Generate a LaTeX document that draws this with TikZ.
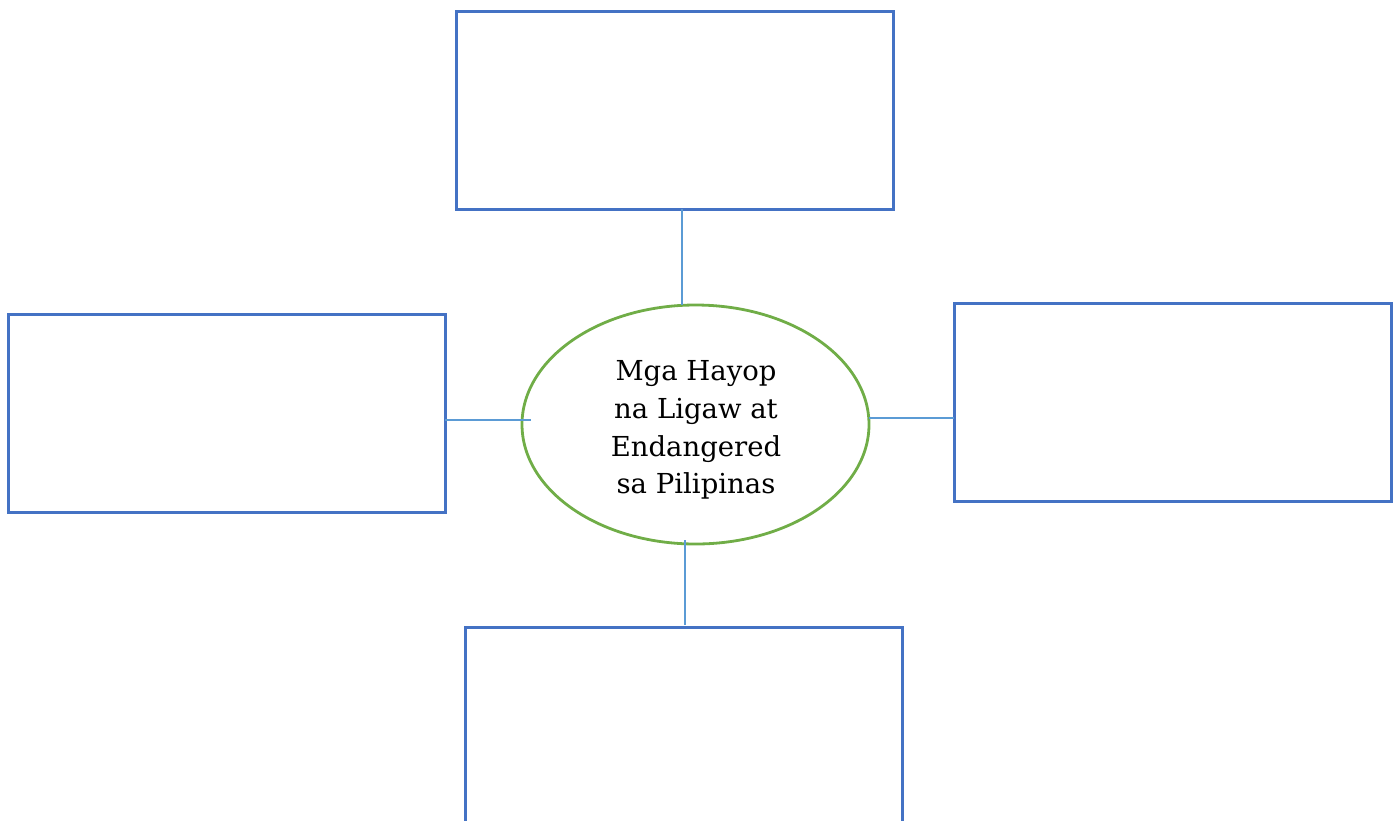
\documentclass[tikz,border=0pt]{standalone}
\usepackage{fontspec}
\setmainfont{DejaVu Serif}
\usetikzlibrary{shapes.geometric}
\definecolor{boxblue}{HTML}{4472C4}
\definecolor{ellgreen}{HTML}{70AD47}
\definecolor{linkblue}{HTML}{5B9BD5}
\begin{document}
\begin{tikzpicture}[x=1pt,y=-1pt,
  box/.style={draw=boxblue,line width=3pt,fill=none},
  hub/.style={ellipse,draw=ellgreen,line width=2.8pt,minimum width=347pt,minimum height=239pt,inner sep=0pt},
  hubtext/.style={align=center,font=\fontsize{27.5}{37.7}\selectfont,inner sep=0pt},
  link/.style={draw=linkblue,line width=1.2pt}]
\useasboundingbox (0,0) rectangle (1399,820);
\draw[box] (456,11) rectangle (893,209);
\draw[box] (8,314) rectangle (445,512);
\draw[box] (954,303) rectangle (1391,501);
\draw[box] (465,830) -- (465,627) -- (902,627) -- (902,830);
\node[hub] (c) at (695.5,424.5) {};
\node[hubtext] (t) at (696,430) {Mga Hayop\\na Ligaw at\\Endangered\\sa Pilipinas};
\coordinate (tb) at (682,209);
\coordinate (tc) at (682,305);
\coordinate (lb) at (445,420);
\coordinate (lc) at (531,420);
\coordinate (rb) at (954,418);
\coordinate (rc) at (869,418);
\coordinate (bb) at (685,625);
\coordinate (bc) at (685,540);
\draw[link] (tb) -- (tc);
\draw[link] (lb) -- (lc);
\draw[link] (rc) -- (rb);
\draw[link] (bc) -- (bb);
\end{tikzpicture}
\end{document}
